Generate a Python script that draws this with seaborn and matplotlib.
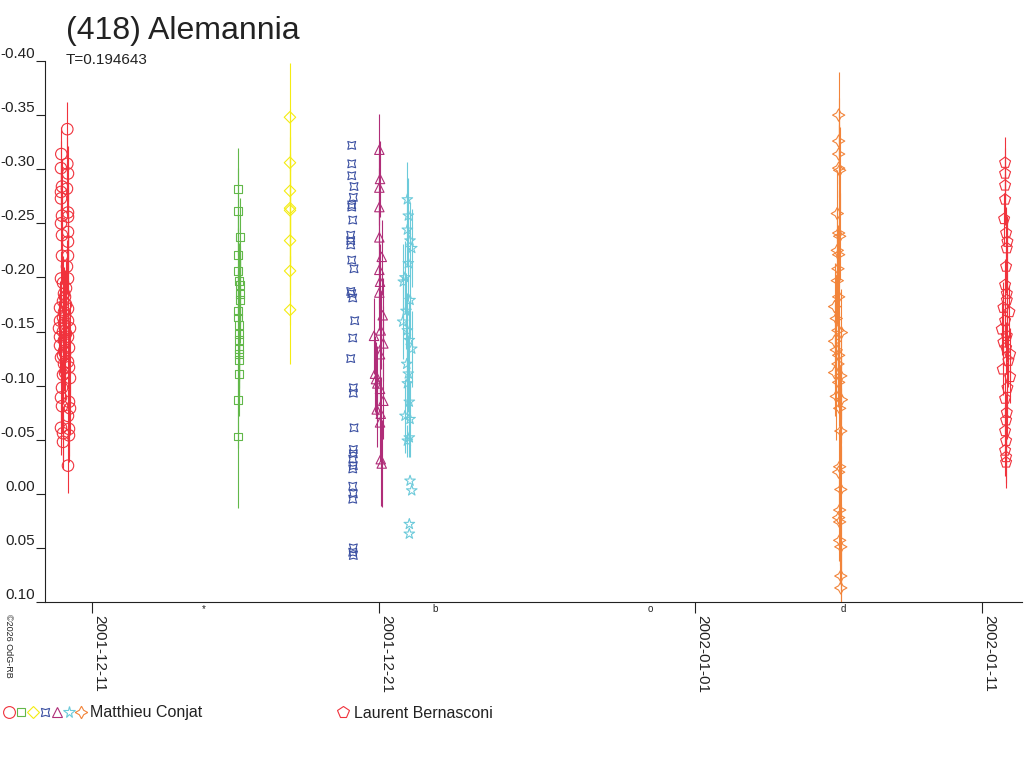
import numpy as np
import pandas as pd
import matplotlib
matplotlib.use("Agg")
import matplotlib.pyplot as plt
import matplotlib.transforms as mtransforms
from matplotlib.lines import Line2D
from matplotlib.legend_handler import HandlerTuple
import seaborn as sns

# ---------------- data (times = days since 2001-12-01 00:00 UT) ----------------
title = "(418) Alemannia"
period_text = "T=0.194643"

# Matthieu Conjat, session 1 (red circles)
conjat1_t = [9.129, 8.920, 9.129, 8.909, 9.153, 8.944, 9.118, 8.909, 8.909, 9.153, 8.944, 9.153, 8.909, 9.153,
             8.944, 9.153, 8.944, 9.153, 9.118, 8.909, 9.153,
             8.979, 9.084, 9.014, 9.049, 8.979, 9.084, 8.875, 9.153, 9.014, 9.049, 8.979, 8.875, 9.153, 9.014,
             8.840, 9.223, 8.979, 9.084, 8.875, 9.153, 9.014, 9.049, 8.875, 9.188, 9.014, 9.049, 8.979, 8.909,
             9.153, 9.014, 9.188, 9.049, 8.979, 9.223, 8.944, 8.909, 9.188, 8.944, 9.223, 9.153, 8.909, 9.188,
             8.979, 9.188, 8.979, 9.153]
conjat1_mag = [-0.337, -0.314, -0.305, -0.301, -0.296, -0.284, -0.282, -0.279, -0.273, -0.260, -0.257, -0.256,
               -0.250, -0.242, -0.239, -0.233, -0.220, -0.220, -0.210, -0.199, -0.199,
               -0.195, -0.190, -0.185, -0.182, -0.178, -0.175, -0.172, -0.171, -0.168, -0.165, -0.163, -0.160,
               -0.160, -0.158, -0.153, -0.153, -0.150, -0.148, -0.145, -0.145, -0.142, -0.140, -0.137, -0.135,
               -0.132, -0.130, -0.128, -0.126, -0.122, -0.120, -0.117, -0.112, -0.110, -0.107, -0.098, -0.089,
               -0.085, -0.081, -0.079, -0.072, -0.061, -0.060, -0.056, -0.054, -0.048, -0.026]
conjat1_err = 0.025

# session 2 (green squares)
conjat2_t = [15.066, 15.066, 15.146, 15.066, 15.066, 15.101, 15.146, 15.146, 15.146, 15.066, 15.066, 15.122,
             15.122, 15.101, 15.101, 15.122, 15.101, 15.101, 15.066, 15.066]
conjat2_mag = [-0.282, -0.261, -0.237, -0.221, -0.206, -0.197, -0.193, -0.185, -0.179, -0.169, -0.163, -0.156,
               -0.148, -0.142, -0.134, -0.129, -0.124, -0.111, -0.087, -0.053]
conjat2_err = [0.038, 0.040, 0.036, 0.038, 0.040, 0.035, 0.036, 0.038, 0.040, 0.037, 0.038, 0.036, 0.040,
               0.038, 0.036, 0.038, 0.040, 0.039, 0.045, 0.066]

# session 3 (yellow diamonds)
conjat3_t = [16.886, 16.887, 16.888, 16.889, 16.889, 16.890, 16.891, 16.892]
conjat3_mag = [-0.348, -0.306, -0.280, -0.264, -0.262, -0.234, -0.206, -0.170]
conjat3_err = 0.050

# session 4 (blue concave squares, no error bars)
conjat4_t = [19.038, 19.038, 19.038, 19.118, 19.094, 19.038, 19.038, 19.073, 19.003, 19.003, 19.003, 19.038,
             19.118, 19.003, 19.038, 19.073, 19.143, 19.073, 19.003, 19.094, 19.094, 19.118, 19.094, 19.094,
             19.073, 19.094, 19.073, 19.073, 19.094, 19.073, 19.094, 19.073, 19.094]
conjat4_mag = [-0.322, -0.305, -0.294, -0.284, -0.274, -0.267, -0.265, -0.253, -0.239, -0.234, -0.230, -0.216,
               -0.208, -0.187, -0.185, -0.181, -0.160, -0.144, -0.125, -0.098, -0.093, -0.061, -0.041, -0.037,
               -0.032, -0.026, -0.023, -0.007, 0.000, 0.005, 0.050, 0.054, 0.057]
conjat4_err = 0.0

# session 5 (magenta triangles)
conjat5_t = [20.000, 20.024, 20.000, 20.000, 20.000, 20.084, 20.000, 20.024, 20.000, 20.118, 20.049, 19.815,
             20.139, 20.024, 19.850, 19.885, 19.930, 20.024, 20.139, 19.909, 20.049, 20.024, 20.049, 20.084]
conjat5_mag = [-0.318, -0.291, -0.283, -0.265, -0.237, -0.219, -0.207, -0.196, -0.186, -0.165, -0.151, -0.146,
               -0.139, -0.129, -0.111, -0.106, -0.102, -0.097, -0.086, -0.078, -0.074, -0.066, -0.032, -0.028]
conjat5_err = [0.033, 0.035, 0.035, 0.036, 0.035, 0.034, 0.036, 0.035, 0.035, 0.034, 0.036, 0.035, 0.035,
               0.036, 0.035, 0.034, 0.035, 0.036, 0.035, 0.035, 0.034, 0.036, 0.043, 0.040]

# session 6 (cyan stars)
conjat6_t = [20.976, 21.010, 20.976, 21.070, 21.129, 21.010, 20.895, 20.836, 21.070, 20.930, 20.815, 20.976,
             21.045, 21.129, 20.955, 21.010, 20.976, 21.045, 20.895, 21.070, 21.045, 20.976, 21.070, 21.129,
             21.045, 21.045]
conjat6_mag = [-0.272, -0.257, -0.244, -0.234, -0.227, -0.213, -0.200, -0.196, -0.179, -0.169, -0.159, -0.151,
               -0.142, -0.134, -0.120, -0.111, -0.102, -0.085, -0.072, -0.069, -0.052, -0.049, -0.012, -0.003,
               0.028, 0.037]
conjat6_err = [0.035, 0.035, 0.034, 0.035, 0.036, 0.035, 0.034, 0.035, 0.036, 0.035, 0.034, 0.035, 0.036,
               0.035, 0.034, 0.035, 0.036, 0.035, 0.034, 0.035, 0.018, 0.015, 0.0, 0.0, 0.0, 0.0]

# session 7 (orange four-point stars)
conjat7_t = [36.003, 36.003, 36.003, 36.003, 36.038, 35.955, 36.003, 36.038, 35.955, 36.003, 35.979, 35.955,
             36.003, 35.861, 35.920, 35.979, 36.098, 35.861, 35.920, 36.003, 35.979, 35.861, 36.077, 36.003,
             35.920, 36.098, 36.038, 36.077, 36.038, 36.003, 36.077, 36.038, 36.003, 36.038, 36.038, 36.077,
             36.077, 36.077]
conjat7_mag = [-0.350, -0.326, -0.314, -0.301, -0.299, -0.259, -0.241, -0.238, -0.225, -0.221, -0.208, -0.197,
               -0.182, -0.173, -0.162, -0.151, -0.149, -0.141, -0.133, -0.128, -0.120, -0.112, -0.109, -0.103,
               -0.090, -0.087, -0.079, -0.058, -0.025, -0.020, -0.004, 0.015, 0.022, 0.026, 0.043, 0.049,
               0.076, 0.087]
conjat7_err = 0.040

# Laurent Bernasconi (red pentagons)
bern_t = [41.801, 41.801, 41.801, 41.801, 41.767, 41.836, 41.882, 41.861, 41.836, 41.801, 41.861, 41.861,
          41.742, 41.951, 41.801, 41.686, 41.861, 41.742, 41.836, 41.976, 41.916, 41.721, 41.976, 41.882,
          41.801, 41.861, 41.836, 41.801, 41.836, 41.801, 41.836, 41.836]
bern_mag = [-0.306, -0.296, -0.285, -0.272, -0.254, -0.241, -0.233, -0.227, -0.210, -0.193, -0.185, -0.179,
            -0.172, -0.168, -0.160, -0.152, -0.146, -0.140, -0.135, -0.129, -0.123, -0.115, -0.108, -0.098,
            -0.088, -0.075, -0.068, -0.058, -0.049, -0.040, -0.034, -0.029]
bern_err = 0.024

observers = ["Matthieu Conjat", "Laurent Bernasconi"]

y_ticks = [-0.40, -0.35, -0.30, -0.25, -0.20, -0.15, -0.10, -0.05, 0.00, 0.05, 0.10]
y_tick_labels = ["-0.40", "-0.35", "-0.30", "-0.25", "-0.20", "-0.15", "-0.10", "-0.05", "0.00", "0.05", "0.10"]
x_tick_labels = ["2001-12-11", "2001-12-21", "2002-01-01", "2002-01-11"]

# moon phases (new, first quarter, full, last quarter), days since 2001-12-01
moon_phase_t = [13.87, 21.94, 29.45, 36.16]
moon_phase_sym = ["*", "b", "o", "d"]

copyright_text = "\u00a92026 OdG-RB"

# ---------------- style ----------------
sns.set_style("white")
plt.rcParams["font.family"] = ["Liberation Sans", "DejaVu Sans"]
INK = "#222222"

BASE = pd.Timestamp("2001-12-01")

sessions = [
    dict(t=conjat1_t, m=conjat1_mag, e=conjat1_err, color="#f0323c", marker="o", s=68),
    dict(t=conjat2_t, m=conjat2_mag, e=conjat2_err, color="#62b84a", marker="s", s=32),
    dict(t=conjat3_t, m=conjat3_mag, e=conjat3_err, color="#f4ec12", marker="D", s=34),
    dict(t=conjat4_t, m=conjat4_mag, e=conjat4_err, color="#3b50a2", marker=(4, 1, 45), s=64),
    dict(t=conjat5_t, m=conjat5_mag, e=conjat5_err, color="#b02d78", marker="^", s=46),
    dict(t=conjat6_t, m=conjat6_mag, e=conjat6_err, color="#6ccada", marker="*", s=64),
    dict(t=conjat7_t, m=conjat7_mag, e=conjat7_err, color="#f2843a", marker=(4, 1, 0), s=78),
    dict(t=bern_t, m=bern_mag, e=bern_err, color="#f0323c", marker="p", s=68),
]

fig = plt.figure(figsize=(10.24, 7.68), dpi=100)
ax = fig.add_axes([45 / 1024, 1 - 602 / 768, (1022 - 45) / 1024, (602 - 61) / 768])

for s in sessions:
    df = pd.DataFrame({"date": BASE + pd.to_timedelta(np.asarray(s["t"]), unit="D"),
                       "mag": np.asarray(s["m"], dtype=float)})
    df["err"] = np.broadcast_to(np.asarray(s["e"], dtype=float), len(df))
    bars = df[df["err"] > 0]
    if len(bars):
        ax.vlines(bars["date"], bars["mag"] - bars["err"], bars["mag"] + bars["err"],
                  color=s["color"], lw=0.8, zorder=2)
    sns.scatterplot(data=df, x="date", y="mag", marker=s["marker"], s=s["s"], color=s["color"],
                    facecolors="none", edgecolor=s["color"], linewidth=0.8, legend=False, ax=ax, zorder=3)
    coll = ax.collections[-1]
    coll.set_facecolor("none")
    coll.set_edgecolor(s["color"])

ax.set_xlim(BASE + pd.Timedelta(days=8.352), BASE + pd.Timedelta(days=42.39))
ax.set_ylim(0.10, -0.40)
ax.set_yticks(y_ticks)
ax.set_yticklabels(y_tick_labels)
ax.set_xticks([pd.Timestamp(d) for d in x_tick_labels])
ax.set_xticklabels(x_tick_labels, rotation=270, ha="left", va="top")
ax.set_xlabel("")
ax.set_ylabel("")
ax.grid(False)

for side in ["top", "right"]:
    ax.spines[side].set_visible(False)
for side in ["left", "bottom"]:
    ax.spines[side].set_color(INK)
    ax.spines[side].set_linewidth(0.8)

ax.tick_params(axis="y", direction="out", length=6.5, width=0.8, pad=1, labelsize=11,
               colors=INK, left=True)
ax.tick_params(axis="x", direction="out", length=8, width=0.8, pad=1.5, labelsize=11,
               colors=INK, bottom=True)
for lab in ax.get_yticklabels():
    lab.set_va("bottom")

# moon phase markers under the axis
trans = mtransforms.blended_transform_factory(ax.transData, ax.transAxes)
for t, sym in zip(moon_phase_t, moon_phase_sym):
    ax.text(BASE + pd.Timedelta(days=t), -0.004, sym, transform=trans, ha="center", va="top",
            fontsize=7, color=INK, clip_on=False)

# titles
fig.text(66 / 1024, 1 - 39.5 / 768, title, fontsize=23, va="baseline", ha="left", color=INK)
fig.text(66 / 1024, 1 - 63.5 / 768, period_text, fontsize=11, va="baseline", ha="left", color=INK)

# copyright (vertical)
fig.text(8 / 1024, 1 - 614 / 768, copyright_text, rotation=270, fontsize=6.5, ha="center", va="top", color=INK)

# legend
legend_ms = [8.5, 6.3, 6.2, 8.4, 7.4, 8.4, 9.0]
conjat_handles = tuple(
    Line2D([], [], ls="none", marker=s["marker"], ms=ms, mfc="none", mec=s["color"], mew=0.8)
    for s, ms in zip(sessions[:7], legend_ms)
)
leg1 = fig.legend(handles=[conjat_handles], labels=[observers[0]],
                  handler_map={tuple: HandlerTuple(ndivide=None, pad=0)},
                  loc="center left", bbox_to_anchor=(3 / 1024, 1 - 713 / 768), frameon=False,
                  fontsize=11.5, handlelength=84 / 16, handletextpad=0.2, borderpad=0, borderaxespad=0,
                  labelcolor=INK)
bern_handle = Line2D([], [], ls="none", marker="p", ms=8.4, mfc="none", mec=sessions[7]["color"], mew=0.8)
leg2 = fig.legend(handles=[bern_handle], labels=[observers[1]],
                  loc="center left", bbox_to_anchor=(337 / 1024, 1 - 713 / 768), frameon=False,
                  fontsize=11.5, handlelength=0.75, handletextpad=0.3, borderpad=0, borderaxespad=0,
                  labelcolor=INK)

fig.savefig("out.png", dpi=100)
